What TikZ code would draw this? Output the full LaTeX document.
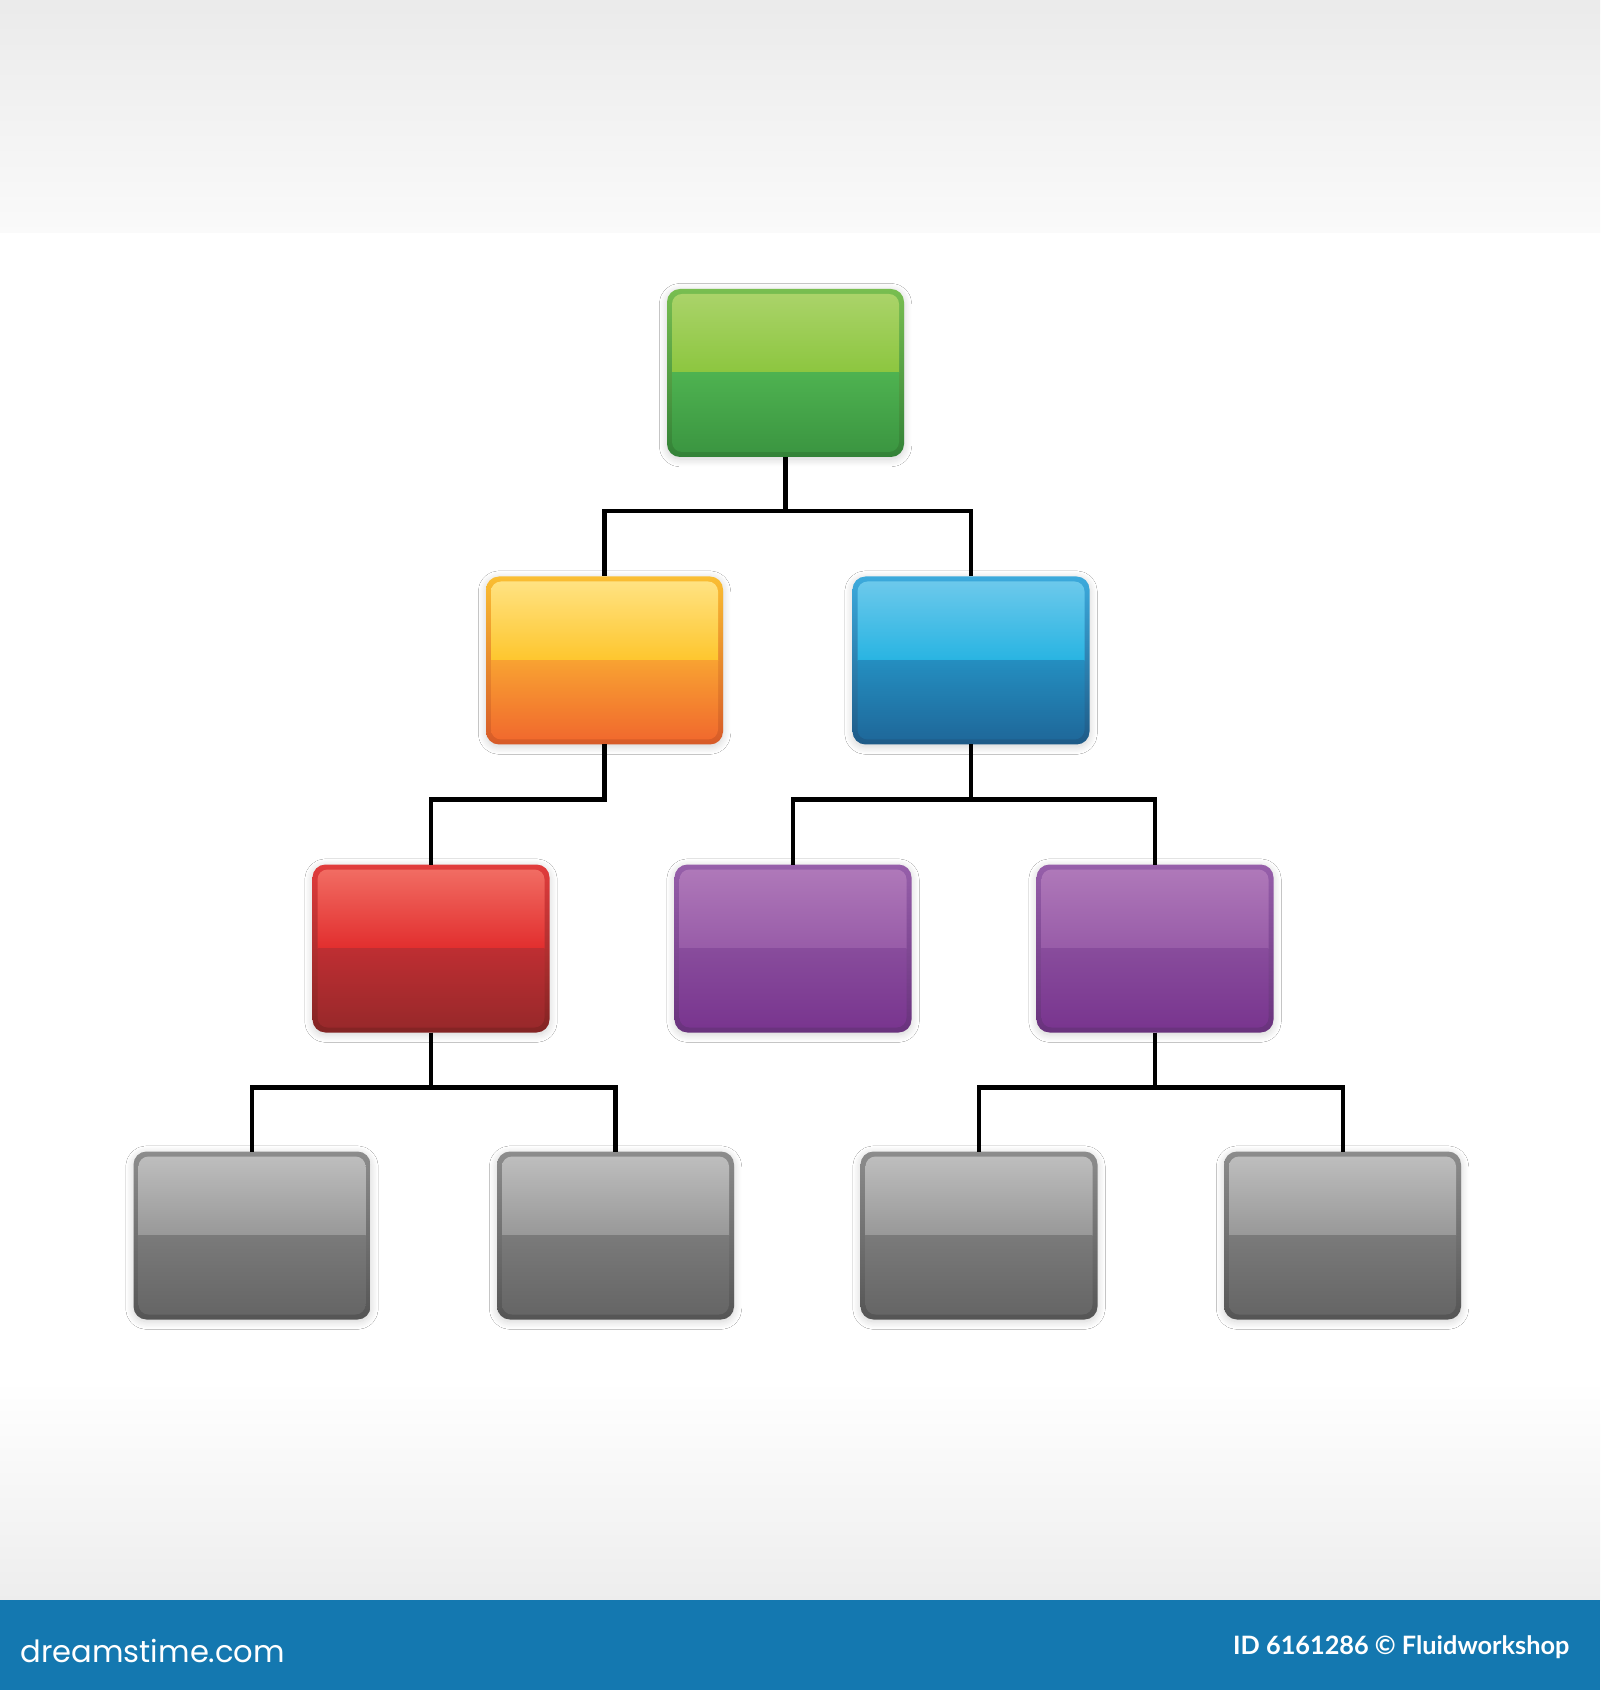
\documentclass[tikz,border=0pt]{standalone}
\usepackage{fontspec}
\newfontfamily\dtfont{Poppins}
\newfontfamily\idfont{Lato}
\usetikzlibrary{calc,shadows.blur}
% colour sets: b = border, t = upper half, l = lower half
\definecolor{grb1}{RGB}{120,190,80}\definecolor{grb2}{RGB}{50,130,55}
\definecolor{grt1}{RGB}{172,212,108}\definecolor{grt2}{RGB}{140,198,63}
\definecolor{grl1}{RGB}{78,178,80}\definecolor{grl2}{RGB}{58,148,64}
\definecolor{orb1}{RGB}{250,190,50}\definecolor{orb2}{RGB}{215,90,40}
\definecolor{ort1}{RGB}{255,228,135}\definecolor{ort2}{RGB}{254,198,45}
\definecolor{orl1}{RGB}{248,162,50}\definecolor{orl2}{RGB}{240,102,45}
\definecolor{blb1}{RGB}{60,170,220}\definecolor{blb2}{RGB}{30,90,135}
\definecolor{blt1}{RGB}{112,202,236}\definecolor{blt2}{RGB}{40,180,226}
\definecolor{bll1}{RGB}{36,142,192}\definecolor{bll2}{RGB}{30,102,152}
\definecolor{rdb1}{RGB}{225,60,60}\definecolor{rdb2}{RGB}{130,35,35}
\definecolor{rdt1}{RGB}{242,112,102}\definecolor{rdt2}{RGB}{226,46,46}
\definecolor{rdl1}{RGB}{190,46,50}\definecolor{rdl2}{RGB}{150,40,42}
\definecolor{pub1}{RGB}{150,95,170}\definecolor{pub2}{RGB}{105,50,125}
\definecolor{put1}{RGB}{176,122,186}\definecolor{put2}{RGB}{152,92,168}
\definecolor{pul1}{RGB}{136,76,156}\definecolor{pul2}{RGB}{120,52,142}
\definecolor{gyb1}{RGB}{140,140,140}\definecolor{gyb2}{RGB}{85,85,85}
\definecolor{gyt1}{RGB}{192,192,192}\definecolor{gyt2}{RGB}{152,152,152}
\definecolor{gyl1}{RGB}{122,122,122}\definecolor{gyl2}{RGB}{100,100,100}
\definecolor{banner}{RGB}{20,120,176}
\tikzset{
  chartbox/.style={rectangle, rounded corners=1.3mm, minimum width=2.37cm,
    minimum height=1.68cm, inner sep=0pt, outer sep=0pt,
    blur shadow={shadow xshift=0pt, shadow yshift=-0.6pt,
      shadow blur radius=2.2pt, shadow blur steps=10, shadow opacity=18}},
  link/.style={line width=1.15pt, black},
  bannertext/.style={text=white, inner sep=0pt},
}
\newcommand\chartbox[4]{%
  \node[chartbox, top color=#4b1, bottom color=#4b2] (#1) at (#2/100,-#3/100) {};
  \begin{scope}
    \clip[rounded corners=1.0mm] ($(#1.south west)+(0.05,0.05)$) rectangle ($(#1.north east)+(-0.05,-0.05)$);
    \shade[top color=#4t1, bottom color=#4t2] (#1.west) rectangle (#1.north east);
    \shade[top color=#4l1, bottom color=#4l2] (#1.south west) rectangle (#1.east);
  \end{scope}}
\begin{document}
\begin{tikzpicture}
\useasboundingbox (0,0) rectangle (16,-16.9);
% background
\fill[white] (0,0) rectangle (16,-16.9);
\shade[top color=black!8, bottom color=black!2] (0,0) rectangle (16,-2.33);
\shade[top color=white, bottom color=black!7] (0,-13.8) rectangle (16,-16.0);
\fill[banner] (0,-16.0) rectangle (16,-16.9);
\node[bannertext, anchor=base west, font=\dtfont\fontsize{8.7pt}{10pt}\selectfont] (site) at (0.2,-16.62) {dreamstime.com};
\node[bannertext, anchor=base east, font=\idfont\bfseries\fontsize{7.2pt}{9pt}\selectfont] (credit) at (15.70,-16.54) {ID 6161286 © Fluidworkshop};
% boxes
\chartbox{g}{785.5}{373}{gr}
\chartbox{o}{604.5}{660.5}{or}
\chartbox{b}{971}{660.5}{bl}
\chartbox{r}{431}{948.5}{rd}
\chartbox{p1}{793}{948.5}{pu}
\chartbox{p2}{1155}{948.5}{pu}
\chartbox{k1}{252}{1235.5}{gy}
\chartbox{k2}{615.5}{1235.5}{gy}
\chartbox{k3}{979}{1235.5}{gy}
\chartbox{k4}{1342.5}{1235.5}{gy}
% connectors
\draw[link] (g.south) -- ++(0,-0.54) -| (o.north);
\draw[link] (g.south) -- ++(0,-0.54) -| (b.north);
\draw[link] (o.south) -- ++(0,-0.55) -| (r.north);
\draw[link] (b.south) -- ++(0,-0.55) -| (p1.north);
\draw[link] (b.south) -- ++(0,-0.55) -| (p2.north);
\draw[link] (r.south) -- ++(0,-0.55) -| (k1.north);
\draw[link] (r.south) -- ++(0,-0.55) -| (k2.north);
\draw[link] (p2.south) -- ++(0,-0.55) -| (k3.north);
\draw[link] (p2.south) -- ++(0,-0.55) -| (k4.north);
\end{tikzpicture}
\end{document}
